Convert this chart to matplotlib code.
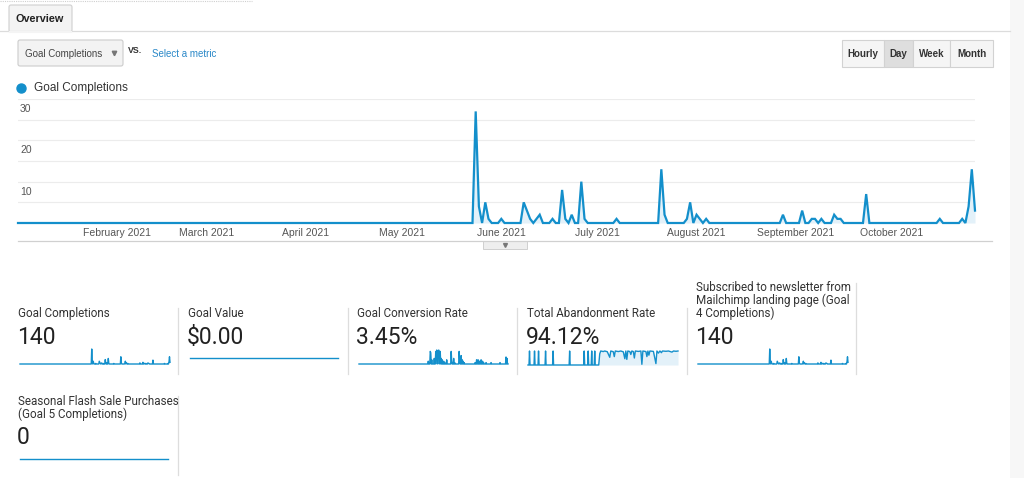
#
# GA goal overview, redrawn
#
import matplotlib
matplotlib.use('Agg')
import matplotlib.pyplot as plt
import matplotlib.patches as patches
import numpy as np
import pandas as pd

W, H = 1024, 478

# ---- data ----
dates = pd.date_range('2021-01-01', '2021-10-27', freq='D')

# goal completions per day (days not listed are 0)
goal_days = [143, 144, 146, 147, 151, 158, 159, 160, 162, 163, 167, 170, 171, 173, 176, 177, 187,
             201, 202, 209, 210, 212, 213, 215, 239, 245, 248, 249, 251, 255, 256, 257, 265,
             288, 295, 297, 298, 299]
goal_vals = [27, 4, 5, 1, 1, 5, 3, 1, 1, 2, 1, 8, 1, 2, 10, 1, 1,
             13, 2, 1, 5, 2, 1, 1, 2, 3, 1, 1, 1, 2, 1, 1, 7,
             1, 1, 4, 13, 3]

# goal conversion rate (%) per day
conv_days = [139, 143, 144, 146, 151, 154, 155, 156, 158, 159, 160, 162, 163, 165, 167, 170, 172, 176,
             185, 186, 190, 192, 201, 202, 205, 207, 209, 211, 233, 236, 239, 242, 245, 248, 250,
             255, 265, 283, 295, 297]
conv_vals = [2, 9, 8, 3, 4, 9, 6, 10, 9, 8, 10, 7, 9, 4, 3, 2, 1, 3,
             9, 2, 4, 1, 9, 3, 6, 3, 2, 1, 1, 3, 3, 2, 3, 2, 1,
             1, 1, 1, 5, 4]

# total abandonment rate (%), break points of the daily line
abandon_days = [0, 2, 3, 4, 12, 13, 14, 20, 21, 22, 34, 35, 36, 49, 50, 51, 82, 83, 84,
                111, 112, 113, 119, 120, 121, 126, 127, 128, 132, 133, 134, 141,
                143, 145, 150, 153, 158, 163, 165, 170, 172, 174, 180, 185, 190, 193, 195, 197, 199,
                203, 205, 207, 210, 212, 214, 220, 225, 227, 229, 235, 237, 239, 241, 243, 250,
                255, 257, 260, 263, 266, 268, 275, 280, 287, 290, 295, 299]
abandon_vals = [0, 0, 100, 0, 0, 100, 0, 0, 100, 0, 0, 100, 0, 0, 100, 0, 0, 100, 0,
                0, 100, 0, 0, 100, 0, 0, 100, 0, 0, 100, 0, 0,
                80, 100, 96, 100, 95, 55, 100, 95, 60, 100, 96, 100, 94, 45, 100, 40, 100,
                96, 75, 100, 96, 50, 100, 97, 100, 5, 100, 96, 60, 100, 70, 100, 97,
                10, 100, 85, 100, 88, 100, 98, 100, 92, 100, 98, 100]

month_ticks = ['2021-02-01', '2021-03-01', '2021-04-01', '2021-05-01', '2021-06-01',
               '2021-07-01', '2021-08-01', '2021-09-01', '2021-10-01']
month_labels = ['February 2021', 'March 2021', 'April 2021', 'May 2021', 'June 2021',
                'July 2021', 'August 2021', 'September 2021', 'October 2021']
y_grid = [0, 5, 10, 15, 20, 25, 30]
y_labels = [10, 20, 30]

card_titles = ['Goal Completions', 'Goal Value', 'Goal Conversion Rate', 'Total Abandonment Rate',
               'Subscribed to newsletter from\nMailchimp landing page (Goal\n4 Completions)',
               'Seasonal Flash Sale Purchases\n(Goal 5 Completions)']
card_values = ['140', '$0.00', '3.45%', '94.12%', '140', '0']

goal = np.zeros(len(dates))
goal[goal_days] = goal_vals
conv = np.zeros(len(dates))
conv[conv_days] = conv_vals
zeros = np.zeros(len(dates))
day_idx = np.arange(len(dates))

BLUE = '#138fcb'
FILL = '#e3f1f9'
UI_FONT = ['Liberation Sans', 'DejaVu Sans']
CARD_FONT = ['Roboto', 'DejaVu Sans']

fig = plt.figure(figsize=(W / 100, H / 100), dpi=100)
fig.patch.set_facecolor('white')


def px_axes(x0, y0, x1, y1, z=2):
    # axes from pixel box (top-left origin)
    return fig.add_axes([x0 / W, 1 - y1 / H, (x1 - x0) / W, (y1 - y0) / H], zorder=z)


# overlay for the page chrome
ui = fig.add_axes([0, 0, 1, 1], zorder=0)
ui.set_xlim(0, W)
ui.set_ylim(H, 0)
ui.axis('off')

ui.add_patch(patches.Rectangle((1010, 0), 14, H, color='#f7f7f7', lw=0))
ui.plot([0, 252], [1, 1], color='#cfcfcf', lw=0.8, ls=(0, (1, 1)))
ui.plot([0, 1010], [31, 31], color='#dcdcdc', lw=0.9)
ui.add_patch(patches.FancyBboxPatch((9, 5), 63, 27, boxstyle='round,pad=0,rounding_size=2',
                                    facecolor='#f4f4f4', edgecolor='#d0d0d0', lw=0.8))
ui.plot([9.6, 71.4], [31.5, 31.5], color='#f4f4f4', lw=1.5)
ui.text(40, 18.5, 'Overview', fontsize=7.8, fontweight='bold', color='#222', ha='center', va='center',
        family=UI_FONT)

# metric dropdown
ui.add_patch(patches.FancyBboxPatch((18, 40), 105, 26, boxstyle='round,pad=0,rounding_size=2',
                                    facecolor='#f3f3f3', edgecolor='#cccccc', lw=0.8))
ui.text(25, 53.5, 'Goal Completions', fontsize=7, color='#444', va='center', family=UI_FONT)
ui.plot([114], [52.5], marker='v', ms=3.2, color='#777')
ui.text(128, 50, 'VS.', fontsize=6.3, fontweight='bold', color='#333', va='center', family=UI_FONT)
ui.text(152, 53.5, 'Select a metric', fontsize=7, color='#2a88c8', va='center', family=UI_FONT)

# Hourly / Day / Week / Month
btn_edges = [842, 884, 913, 950, 993]
btn_names = ['Hourly', 'Day', 'Week', 'Month']
for i, name in enumerate(btn_names):
    fc = '#dedede' if name == 'Day' else '#f5f5f5'
    ui.add_patch(patches.Rectangle((btn_edges[i], 40), btn_edges[i + 1] - btn_edges[i], 27,
                                   facecolor=fc, edgecolor='#d2d2d2', lw=0.8))
    ui.text((btn_edges[i] + btn_edges[i + 1]) / 2, 53.5, name, fontsize=7, fontweight='bold',
            color='#333', ha='center', va='center', family=UI_FONT)

# legend
ui.plot([21], [88], marker='o', ms=6.5, color=BLUE, mec=BLUE)
ui.text(34, 88, 'Goal Completions', fontsize=8.5, color='#333', va='center', family=UI_FONT)

# axis line + collapse tab under the chart
ui.plot([18, 992], [241, 241], color='#d0d0d0', lw=0.9)
ui.add_patch(patches.Rectangle((483, 241), 44, 8, facecolor='#eeeeee', edgecolor='#cfcfcf', lw=0.7))
ui.plot([505], [244.5], marker='v', ms=2.8, color='#777')

# ---- main chart ----
ax = px_axes(18, 99, 975, 223)
ax.set_facecolor('none')
ax.fill_between(dates, goal, color=FILL, lw=0)
ax.plot(dates, goal, color=BLUE, lw=1.6, clip_on=False, solid_joinstyle='miter')
ax.set_xlim(dates[0], dates[-1])
ax.set_ylim(0, 30)
ax.set_yticks(y_grid)
ax.grid(axis='y', color='#ececec', lw=0.8)
ax.set_axisbelow(True)
ax.tick_params(axis='y', length=0, labelleft=False)
for v in y_labels:
    ax.annotate(str(v), xy=(0, v), xycoords=('axes fraction', 'data'), xytext=(1.5, -3.5),
                textcoords='offset points', fontsize=7.5, color='#555', va='top', family=UI_FONT)
ax.set_xticks(pd.to_datetime(month_ticks))
ax.set_xticklabels(month_labels, fontsize=7.5, color='#555', family=UI_FONT)
ax.tick_params(axis='x', length=0, pad=3.5)
for s in ax.spines.values():
    s.set_visible(False)

# ---- scorecards ----
card_x = [18, 188, 357, 527, 696, 18]
card_top = [320, 320, 320, 320, 320, 421]
value_y = [337, 337, 337, 337, 337, 438]
for i in range(len(card_titles)):
    ui.text(card_x[i], card_top[i], card_titles[i], fontsize=8.4, color='#333', va='bottom',
            linespacing=0.95, family=CARD_FONT)
    ui.text(card_x[i] - 1, value_y[i], card_values[i], fontsize=16.5, color='#222', va='center',
            family=CARD_FONT)

for x in [178, 348, 517, 687]:
    ui.plot([x, x], [308, 374], color='#dddddd', lw=0.9)
ui.plot([856, 856], [283, 374], color='#dddddd', lw=0.9)
ui.plot([178, 178], [396, 475], color='#dddddd', lw=0.9)

spark_boxes = [(20, 349, 170, 364), (190, 350, 338, 365), (359, 350, 508, 364),
               (528, 351, 678, 365), (698, 349, 848, 364), (20, 451, 168, 466)]
spark_data = [(day_idx, goal), (day_idx, zeros), (day_idx, conv),
              (np.array(abandon_days), np.array(abandon_vals)), (day_idx, goal), (day_idx, zeros)]
for i, (b, (xs, ys)) in enumerate(zip(spark_boxes, spark_data)):
    sa = px_axes(*b)
    sa.set_facecolor('none')
    if i == 3:
        sa.fill_between(xs, ys, color=FILL, lw=0)
    sa.plot(xs, ys, color=BLUE, lw=1.0, clip_on=False)
    sa.set_xlim(0, len(dates) - 1)
    if ys.max() > 0:
        sa.set_ylim(0, ys.max())
    else:
        sa.set_ylim(-1, 1)
    sa.axis('off')

plt.savefig('out.png', dpi=100)
